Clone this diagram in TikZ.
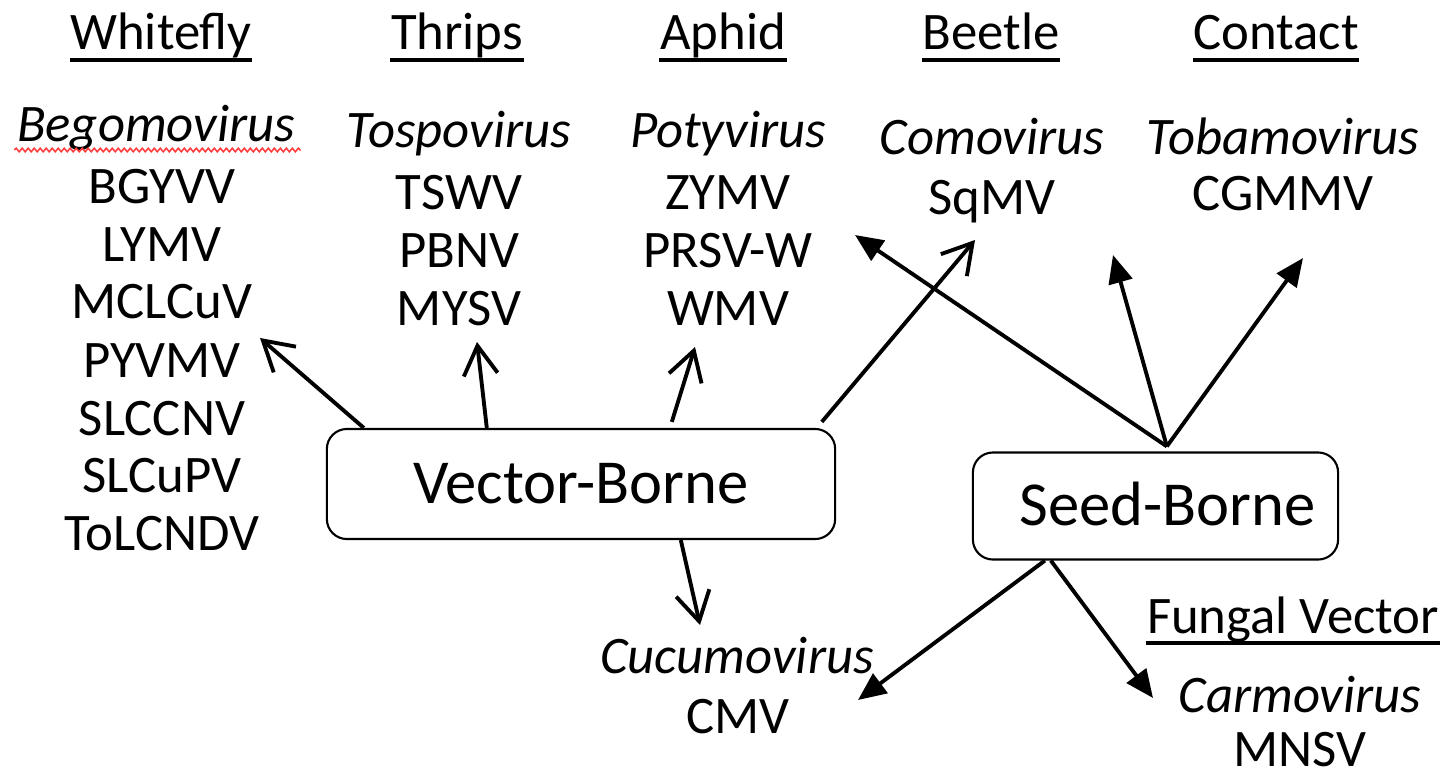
\documentclass[tikz,border=0pt]{standalone}
\usepackage{fontspec}
\setmainfont{Carlito}
\usetikzlibrary{arrows.meta,calc,decorations.pathmorphing}

\begin{document}
\begin{tikzpicture}[x=0.01cm,y=-0.01cm]
\tikzset{
  lbl/.style={anchor=base, inner sep=0pt, font=\fontsize{15}{18}\selectfont},
  genus/.style={anchor=base, inner sep=0pt, font=\fontsize{15}{18}\selectfont\itshape},
  groupbox/.style={draw, rounded corners=0.2cm, line width=0.6pt, inner sep=0pt,
                   font=\fontsize{17.8}{21}\selectfont},
  vecarrow/.style={line width=1.1pt,
                   -{Straight Barb[length=0.29cm,width=0.34cm,line width=1.1pt]}},
  seedarrow/.style={line width=1.1pt, -{Triangle[length=0.28cm,width=0.24cm]}},
  uline/.style={line width=1.05pt},
  spell/.style={red!75, line width=0.45pt,
                decorate, decoration={snake, segment length=0.06cm, amplitude=0.018cm}}
}
\useasboundingbox (0,0) rectangle (1446,773);

% transmission headers
\node[lbl] (hwf) at (161,50) {Whitefly};
\node[lbl] (hth) at (457,50) {Thrips};
\node[lbl] (hap) at (723,50) {Aphid};
\node[lbl] (hbe) at (991,50) {Beetle};
\node[lbl] (hco) at (1276,50) {Contact};
\foreach \h in {hwf,hth,hap,hbe,hco}
  \draw[uline] ($(\h.base west)+(0,10)$) -- ($(\h.base east)+(0,10)$);

% whitefly column
\node[genus] (bego) at (156,142) {Begomovirus};
\draw[spell] ($(bego.base west)+(-2,8)$) -- ($(bego.base east)+(5,8)$);
\node[lbl] (bgyvv) at (162,203) {BGYVV};
\node[lbl] (lymv) at (162,261) {LYMV};
\node[lbl] (mclcuv) at (162,318) {MCLCuV};
\node[lbl] (pyvmv) at (162,377) {PYVMV};
\node[lbl] (slccnv) at (162,435) {SLCCNV};
\node[lbl] (slcupv) at (162,492) {SLCuPV};
\node[lbl] (tolcndv) at (162,550) {ToLCNDV};

% thrips column
\node[genus] (tospo) at (459,148) {Tospovirus};
\node[lbl] (tswv) at (459,209) {TSWV};
\node[lbl] (pbnv) at (459,268) {PBNV};
\node[lbl] (mysv) at (459,325) {MYSV};

% aphid column
\node[genus] (poty) at (728,148) {Potyvirus};
\node[lbl] (zymv) at (728,209) {ZYMV};
\node[lbl] (prsvw) at (728,267) {PRSV-W};
\node[lbl] (wmv) at (728,325) {WMV};

% beetle and contact columns
\node[genus] (como) at (992,155) {Comovirus};
\node[lbl] (sqmv) at (992,214) {SqMV};
\node[genus] (tobamo) at (1283,155) {Tobamovirus};
\node[lbl] (cgmmv) at (1283,210) {CGMMV};

% lower labels
\node[genus] (cucumo) at (737,673) {Cucumovirus};
\node[lbl] (cmv) at (738,733) {CMV};
\node[lbl] (fungal) at (1293,633) {Fungal Vector};
\draw[uline] ($(fungal.base west)+(0,10)$) -- ($(fungal.base east)+(0,10)$);
\node[genus] (carmo) at (1300,712) {Carmovirus};
\node[lbl] (mnsv) at (1300,766) {MNSV};

% the two groups
\node[groupbox, minimum width=5.08cm, minimum height=1.10cm] (vb) at (581,484) {Vector-Borne};
\node[groupbox, minimum width=3.65cm, minimum height=1.07cm] (sb) at (1155.5,506)
  {\hspace{0.24cm}\raisebox{0.04cm}{Seed-Borne}};

% arrow tips
\coordinate (tbego) at (260,338);
\coordinate (ttospo) at (477,342);
\coordinate (tpoty) at (695,347);
\coordinate (tcomo) at (975,240);
\coordinate (tcucumo) at (700,625);
\coordinate (tsb1) at (855,235);
\coordinate (tsb2) at (1113,255);
\coordinate (tsb3) at (1303,258);
\coordinate (tsb4) at (858,700);
\coordinate (tsb5) at (1153,698);

% vector-borne connectors
\draw[vecarrow] ($(vb.north west)+(38,0)$) -- (tbego);
\draw[vecarrow] ($(vb.north west)+(161,0)$) -- (ttospo);
\draw[vecarrow] ($(vb.north west)+(346,-6)$) -- (tpoty);
\draw[vecarrow] ($(vb.north west)+(496,-6)$) -- (tcomo);
\draw[vecarrow] ($(vb.south west)+(355,0)$) -- (tcucumo);

% seed-borne connectors
\draw[seedarrow] ($(sb.north west)+(195,-5)$) -- (tsb1);
\draw[seedarrow] ($(sb.north west)+(195,-5)$) -- (tsb2);
\draw[seedarrow] ($(sb.north west)+(195,-5)$) -- (tsb3);
\draw[seedarrow] ($(sb.south west)+(73,0)$) -- (tsb4);
\draw[seedarrow] ($(sb.south west)+(79,0)$) -- (tsb5);
\end{tikzpicture}
\end{document}
